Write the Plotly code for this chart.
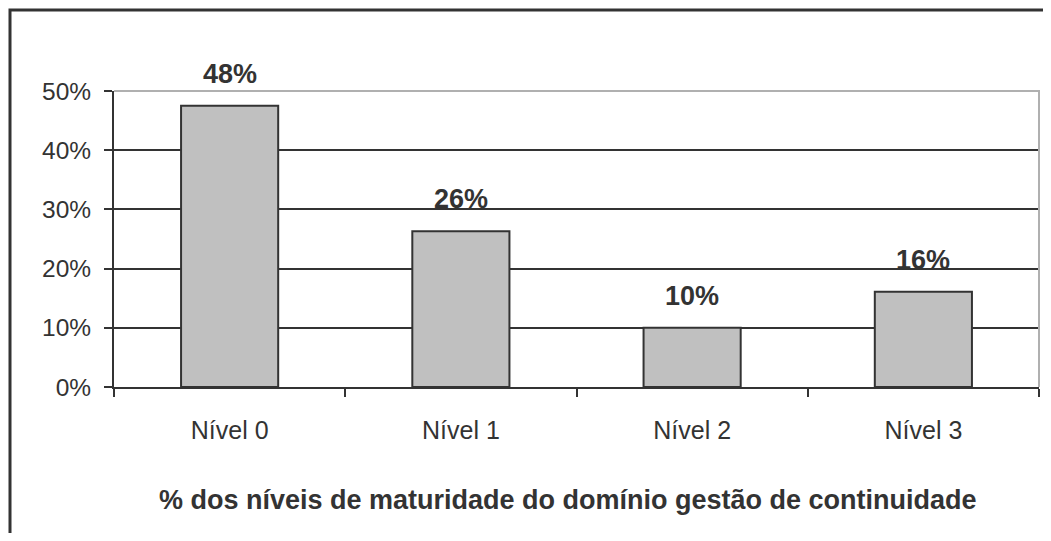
import plotly.graph_objects as go

categories = ["Nível 0", "Nível 1", "Nível 2", "Nível 3"]
values = [47.5, 26.3, 10.0, 16.1]
value_labels = ["48%", "26%", "10%", "16%"]
y_ticks = [0, 10, 20, 30, 40, 50]
y_tick_text = ["0%", "10%", "20%", "30%", "40%", "50%"]
title_text = "% dos níveis de maturidade do domínio gestão de continuidade"

# page body has an 8px margin; figure sized so page fits the 1051x541 window
OFF = 8
W, H = 1051 - 2 * OFF, 541 - 2 * OFF
ML, MR, MT, MB = 114 - OFF, W - (1039 - OFF), 91 - OFF, H - (387 - OFF)
PW, PH = W - ML - MR, H - MT - MB

DARK = "#333333"
FONT = "Liberation Sans, Arial, sans-serif"


def px_x(x):
    return (x - OFF - ML) / PW


def px_y(y):
    return (H - MB - (y - OFF)) / PH


fig = go.Figure()
fig.add_trace(go.Bar(
    x=categories, y=values,
    width=0.42,
    marker=dict(color="#C0C0C0", line=dict(color=DARK, width=2)),
    hoverinfo="skip",
))

for c, v, t in zip(categories, values, value_labels):
    fig.add_annotation(x=c, y=v, text="<b>%s</b>" % t, showarrow=False,
                       yanchor="bottom", yshift=15,
                       font=dict(family=FONT, size=27, color=DARK))

fig.add_annotation(xref="paper", yref="paper", x=px_x(568), y=px_y(500),
                   text="<b>%s</b>" % title_text, showarrow=False,
                   xanchor="center", yanchor="middle",
                   font=dict(family=FONT, size=27, color=DARK))

# outer chart border (left and top visible)
fig.add_shape(type="path", xref="paper", yref="paper",
              path="M %f %f L %f %f L %f %f" % (px_x(10), px_y(580), px_x(10), px_y(10), px_x(1080), px_y(10)),
              line=dict(color=DARK, width=3), layer="above")
# plot-area border (top and right, grey)
fig.add_shape(type="path", xref="paper", yref="paper",
              path="M 0 1 L 1 1 L 1 0",
              line=dict(color="#B0B0B0", width=2), layer="above")

fig.update_layout(
    width=W, height=H,
    margin=dict(l=ML, r=MR, t=MT, b=MB),
    paper_bgcolor="white", plot_bgcolor="white",
    showlegend=False,
    font=dict(family=FONT, size=24, color=DARK),
    xaxis=dict(type="category", range=[-0.5, 3.5], tickson="boundaries",
               ticks="outside", ticklen=8, tickwidth=2, tickcolor=DARK,
               showline=True, linecolor=DARK, linewidth=2, showgrid=False,
               ticklabelstandoff=20, tickfont=dict(size=25)),
    yaxis=dict(range=[0, 50], tickvals=y_ticks, ticktext=y_tick_text,
               ticks="outside", ticklen=8, tickwidth=2, tickcolor=DARK,
               showline=True, linecolor=DARK, linewidth=2,
               showgrid=True, gridcolor=DARK, gridwidth=2, zeroline=False,
               ticklabelstandoff=8, tickfont=dict(size=24.5)),
)

fig.write_html("out.html")
